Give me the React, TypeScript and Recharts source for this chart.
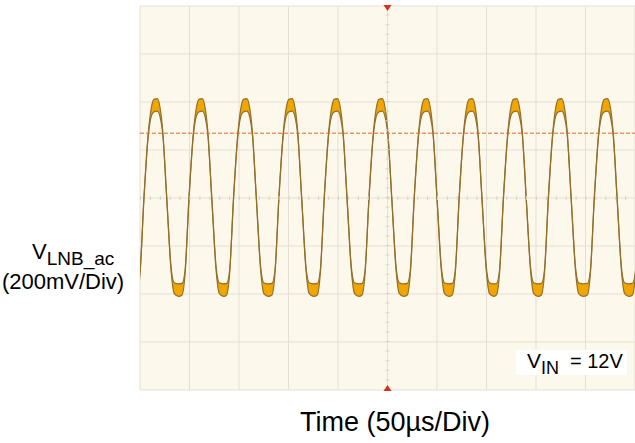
import React from "react";
import {
  ComposedChart, Area, XAxis, YAxis, CartesianGrid, ReferenceLine, ReferenceDot,
} from "recharts";

/* scope screen: 10 div x 50 µs, 8 div x 200 mV (ac coupled) */
const TIME_TICKS = [0, 50, 100, 150, 200, 250, 300, 350, 400, 450, 500];
const VOLT_TICKS = [-800, -600, -400, -200, 0, 200, 400, 600, 800];

/* peaks of the 22 kHz tone (µs) */
const PEAK_TIMES = [-29, 16.5, 62.0, 107.0, 152.8, 198.6, 243.8, 289.5, 334.9, 379.6, 425.0, 471.4, 517.0];

/* one cycle around a peak: offset (µs), upper and lower edge of the persistence band (mV) */
const CYCLE_DT = [-19.5, -16.5, -12.5, -8, -5, -2.5, 1, 4, 6.5, 10.5, 15, 18, 22.5];
const CYCLE_HI = [-356, -302, 5, 277, 378, 411, 414, 370, 277, 5, -292, -353, -358];
const CYCLE_LO = [-404, -318, -5, 265, 342, 359, 362, 334, 265, -5, -308, -397, -410];

/* horizontal cursor (mV) */
const CURSOR_MV = 270;

const trace = PEAK_TIMES.flatMap(tp =>
  CYCLE_DT.map((dt, i) => ({ t: tp + dt, band: [CYCLE_LO[i], CYCLE_HI[i]] }))
);

const FONT = "'Liberation Sans', Arial, Helvetica, sans-serif";

const TriDown = (p: any) => (
  <polygon points={`${p.cx - 4},${p.cy - 1} ${p.cx + 4},${p.cy - 1} ${p.cx},${p.cy + 5}`} fill="#d8301c" />
);
const TriUp = (p: any) => (
  <polygon points={`${p.cx - 4},${p.cy + 1} ${p.cx + 4},${p.cy + 1} ${p.cx},${p.cy - 5}`} fill="#d8301c" />
);

export default function App() {
  return (
    <div style={{ position: "absolute", left: 0, top: 0, width: 635, height: 443, background: "#fff" }}>
      <ComposedChart width={635} height={443} data={trace}
        margin={{ top: 6, right: 0, bottom: 53, left: 140 }}>
        <CartesianGrid stroke="#e4e0d5" fill="#fdf8ec" fillOpacity={1} />
        <XAxis type="number" dataKey="t" domain={[0, 500]} ticks={TIME_TICKS} hide allowDataOverflow />
        <YAxis type="number" domain={[-800, 800]} ticks={VOLT_TICKS} hide allowDataOverflow />
        <ReferenceLine x={250} stroke="#d8d3c6" strokeWidth={4} strokeDasharray="1 8.6" />
        <ReferenceLine y={0} stroke="#d8d3c6" strokeWidth={4} strokeDasharray="1 8.9" />
        <Area type="monotone" dataKey="band" fill="#f0a600" fillOpacity={1}
          stroke="#93702a" strokeWidth={1.2} isAnimationActive={false} dot={false} activeDot={false} />
        <ReferenceLine y={CURSOR_MV} stroke="#e06a2c" strokeWidth={1} strokeDasharray="4 2" />
        <ReferenceDot x={250} y={800} r={4} shape={TriDown} />
        <ReferenceDot x={250} y={-800} r={4} shape={TriUp} />
      </ComposedChart>

      <svg width={635} height={443} style={{ position: "absolute", left: 0, top: 0, pointerEvents: "none" }}
        fontFamily={FONT} fill="#000">
        <text x={32} y={259} fontSize={22}>V<tspan fontSize={19} dy={6}>LNB_ac</tspan></text>
        <text x={63} y={289} fontSize={22} textAnchor="middle">(200mV/Div)</text>

        <rect x={516} y={350} width={111} height={25} fill="#fff" />
        <text x={527} y={368} fontSize={21}>V<tspan fontSize={18} dy={6}>IN</tspan></text>
        <text x={570} y={368} fontSize={20}>= 12V</text>

        <text x={395} y={431} fontSize={27} textAnchor="middle">Time (50µs/Div)</text>
      </svg>
    </div>
  );
}
